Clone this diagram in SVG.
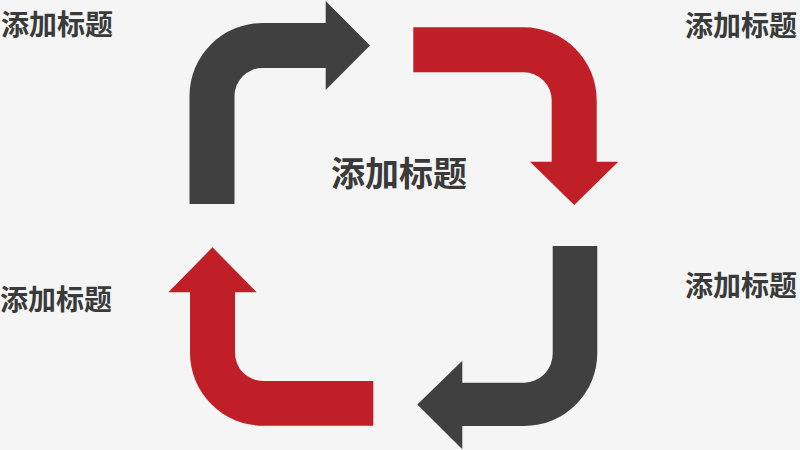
<svg xmlns="http://www.w3.org/2000/svg" width="800" height="450" viewBox="0 0 800 450">
  <style>
    .dark { fill: #404040; }
    .red { fill: #c11f27; }
    .label { font-family: "Noto Sans CJK SC", "Noto Sans", sans-serif; font-weight: bold; fill: #3a3a3a; }
    .side { font-size: 28px; }
    .center { font-size: 34px; }
  </style>
  <rect width="800" height="450" fill="#f5f5f5"/>
  <g id="connectors">
    <path id="arrow-top-left" class="dark" d="M189.5,204 L189.5,96 A73,73 0 0 1 262.5,23 L325.7,23 L325.7,1 L370,45.5 L325.7,90 L325.7,68 L262.5,68 A28,28 0 0 0 234.5,96 L234.5,204 Z"/>
    <path id="arrow-top-right" class="red" d="M413.3,27.3 L523.7,27.3 A73,73 0 0 1 596.7,100.3 L596.7,161.7 L618.3,161.7 L574.2,205 L530,161.7 L551.7,161.7 L551.7,100.3 A28,28 0 0 0 523.7,72.3 L413.3,72.3 Z"/>
    <path id="arrow-bottom-right" class="dark" d="M552.7,246 L597.3,246 L597.3,353 A73,73 0 0 1 524.3,426 L462.3,426 L462.3,449.3 L417.3,404.5 L462.3,360.7 L462.3,382.7 L524.3,382.7 A29,29 0 0 0 552.7,353.7 Z"/>
    <path id="arrow-bottom-left" class="red" d="M190,292.3 L190,352.7 A73,73 0 0 0 263,425.7 L373.3,425.7 L373.3,381 L263,381 A28,28 0 0 1 235,353 L235,292.3 L256.7,292.3 L212.5,247.3 L168.3,292.3 Z"/>
  </g>
  <g id="node-center"><text class="label center" x="331" y="186">添加标题</text></g>
  <g id="node-top-left"><text class="label side" x="1" y="35">添加标题</text></g>
  <g id="node-top-right"><text class="label side" x="685" y="36">添加标题</text></g>
  <g id="node-bottom-left"><text class="label side" x="0" y="310">添加标题</text></g>
  <g id="node-bottom-right"><text class="label side" x="685" y="296">添加标题</text></g>
</svg>
